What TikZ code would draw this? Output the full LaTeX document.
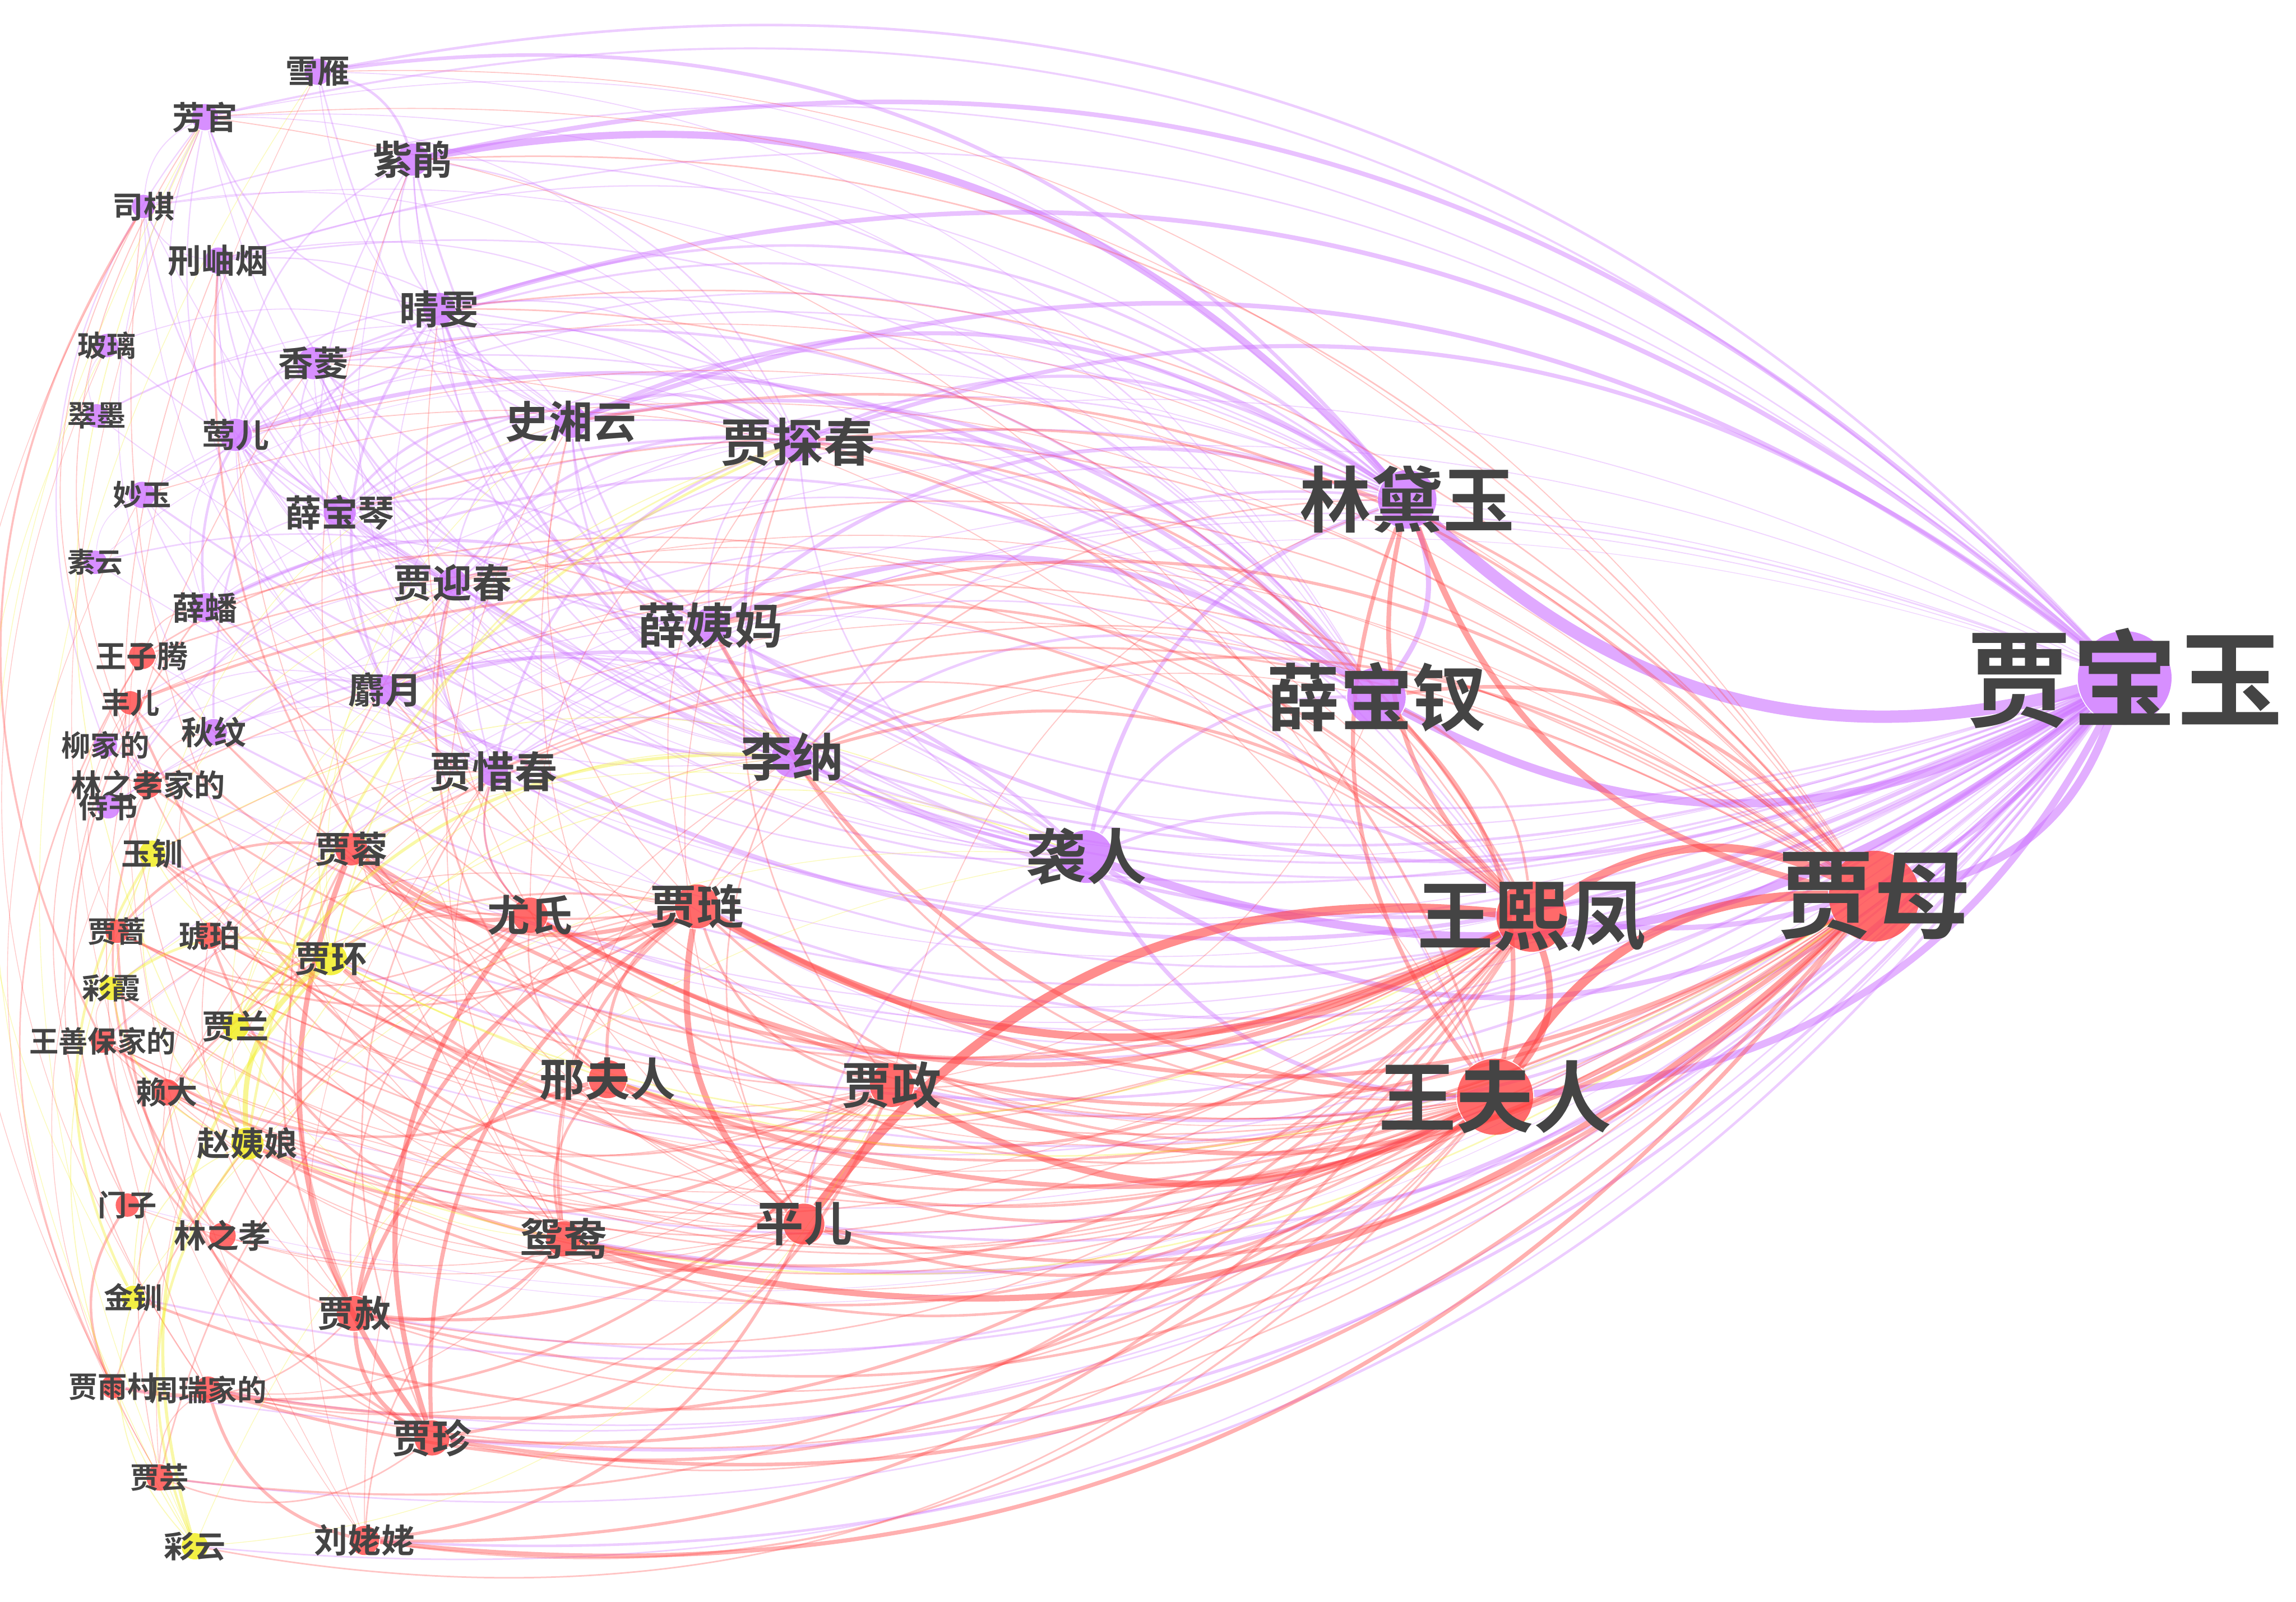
\documentclass[tikz,border=0pt]{standalone}
\usepackage{fontspec}
\usetikzlibrary{calc}
\newfontfamily\cjk{Noto Sans CJK SC Bold}
\definecolor{purp}{RGB}{204,112,255}
\definecolor{redp}{RGB}{255,64,64}
\definecolor{yelp}{RGB}{240,236,16}
\definecolor{labgray}{RGB}{68,68,68}
\pgfdeclarelayer{bg}
\pgfsetlayers{bg,main}

\newcommand\tie[5]{%
  \pgfmathsetmacro\tieop{min(0.25+0.2*#4,0.6)}%
  \draw[#1, line width=#4pt, draw opacity=\tieop]
    let \p1=(#2), \p2=(#3),
        \n1={(\x2-\x1)/100*((\y1+\y2)/200+1.707)-(\y2-\y1)/100*((\x1+\x2)/200-2.219)},
        \n2={(1-2*#5)*29*sign(\n1)}
    in (#2) to[bend left=\n2] (#3);}

\begin{document}
\begin{tikzpicture}[
    person/.style={circle, fill=#1, fill opacity=.78, inner sep=0pt},
    lab/.style={font=\cjk\fontsize{#1pt}{#1pt}\selectfont, text=labgray, inner sep=0pt}]
\useasboundingbox (0,0) rectangle (15.68,-10.94);

\foreach \id/\x/\y/\rad/\fs/\col/\txt in {
    bao/14.51/-4.63/32/20.5/purp/贾宝玉, dai/9.61/-3.41/20/13.9/purp/林黛玉,
    chai/9.40/-4.76/20/14.2/purp/薛宝钗, mu/12.80/-6.12/31/18.8/redp/贾母,
    feng/10.46/-6.26/24/14.8/redp/王熙凤, wang/10.21/-7.49/26/15.1/redp/王夫人,
    xi/7.42/-5.85/18/11.7/purp/袭人, tan/5.45/-3.02/13/10/purp/贾探春,
    xiang/3.90/-2.88/11/8.5/purp/史湘云, yima/4.85/-4.27/12/9.4/purp/薛姨妈,
    wan/5.41/-5.17/14/10/purp/李纳, lian/4.76/-6.19/15/9.1/redp/贾琏,
    zheng/6.09/-7.41/15/9.7/redp/贾政, ping/5.49/-8.36/14/9.4/redp/平儿,
    xing/4.15/-7.37/13/8.8/redp/邢夫人, yuan/3.85/-8.46/12/8.5/redp/鸳鸯,
    you/3.62/-6.25/12/8.3/redp/尤氏, xichun/3.37/-5.27/10/8.3/purp/贾惜春,
    ying/3.09/-3.98/10/7.7/purp/贾迎春, qing/3.00/-2.11/11/7.7/purp/晴雯,
    zij/2.82/-1.09/11/7.7/purp/紫鹃, xueyan/2.17/-0.49/9/6.3/purp/雪雁,
    fang/1.40/-0.80/9/6.3/purp/芳官, siqi/0.98/-1.41/8/6/purp/司棋,
    xiuyan/1.49/-1.78/9/6.5/purp/刑岫烟, boli/0.73/-2.36/8/5.7/purp/玻璃,
    xling/2.14/-2.48/11/6.8/purp/香菱, cuimo/0.66/-2.84/8/5.7/purp/翠墨,
    yinger/1.61/-2.97/11/6.5/purp/莺儿, miao/0.97/-3.38/9/5.7/purp/妙玉,
    baoqin/2.32/-3.50/11/7.1/purp/薛宝琴, suyun/0.65/-3.84/8/5.4/purp/素云,
    pan/1.40/-4.15/10/6.3/purp/薛蟠, ziteng/0.97/-4.48/9/6/redp/王子腾,
    sheyue/2.63/-4.71/10/7.1/purp/麝月, fenger/0.89/-4.80/8/5.7/redp/丰儿,
    qiuwen/1.46/-5.00/9/6.3/purp/秋纹, liujia/0.72/-5.09/8/5.7/purp/柳家的,
    linjia/1.01/-5.36/9/6/redp/林之孝家的, shishu/0.74/-5.51/8/5.7/purp/侍书,
    yuchuan/1.04/-5.83/9/6/yelp/玉钏, rong/2.40/-5.80/11/7.1/redp/贾蓉,
    qiang/0.80/-6.36/8/5.7/redp/贾蔷, hupo/1.43/-6.39/9/6/redp/琥珀,
    huan/2.26/-6.55/11/7.1/yelp/贾环, caixia/0.76/-6.75/8/5.7/yelp/彩霞,
    wsb/0.70/-7.11/8/5.7/redp/王善保家的, lan/1.61/-7.01/9/6.5/yelp/贾兰,
    laida/1.14/-7.46/9/6/redp/赖大, zhao/1.69/-7.81/11/6.5/yelp/赵姨娘,
    menzi/0.87/-8.23/8/5.7/redp/门子, linzx/1.52/-8.44/9/6.3/redp/林之孝,
    jinchuan/0.91/-8.86/8/5.7/yelp/金钏, she/2.42/-8.97/12/7.1/redp/贾赦,
    yucun/0.77/-9.47/8/5.7/redp/贾雨村, zhourui/1.42/-9.49/9/5.7/redp/周瑞家的,
    zhen/2.95/-9.82/12/7.7/redp/贾珍, yun/1.09/-10.09/9/5.7/redp/贾芸,
    caiyun/1.33/-10.56/9/6/yelp/彩云, liu/2.49/-10.52/10/6.5/redp/刘姥姥}
  \node[person=\col, minimum size=\rad*0.2mm, label={[lab=\fs]center:\txt}] (\id) at (\x,\y) {};

\begin{pgfonlayer}{bg}
\foreach \src/\dst/\lw/\fl in {
    bao/dai/2.4/1, bao/chai/1.6/1, bao/xi/1.6/1, bao/mu/1.6/0, bao/wang/1.4/0, bao/feng/1.0/0,
    zij/bao/0.9/0, qing/bao/0.9/0, xiang/bao/0.9/0, tan/bao/0.8/0, bao/sheyue/0.8/1, bao/yima/0.7/1,
    bao/wan/0.7/1, bao/zheng/0.6/0, xueyan/bao/0.5/0, yinger/bao/0.5/1, xling/bao/0.4/1,
    bao/baoqin/0.4/1, fang/bao/0.4/0, bao/xichun/0.4/1, bao/ying/0.4/1, bao/huan/0.5/1,
    bao/ping/0.5/0, bao/lian/0.5/1, bao/yuan/0.8/0, miao/bao/0.4/1, bao/qiuwen/0.4/1,
    siqi/bao/0.3/0, xiuyan/bao/0.3/0, boli/bao/0.25/1, pan/bao/0.4/1, bao/liu/0.5/0,
    bao/zhao/0.4/0, bao/jinchuan/0.4/0, bao/yuchuan/0.4/1, bao/xing/0.4/0, bao/you/0.3/1,
    bao/rong/0.3/1, bao/zhen/0.6/0, bao/she/0.4/0, bao/lan/0.3/1, bao/caiyun/0.3/0, bao/yun/0.3/0,
    bao/liujia/0.25/1, bao/fenger/0.2/0, bao/hupo/0.3/0, bao/zhourui/0.3/0, bao/laida/0.2/0,
    bao/suyun/0.2/1, bao/cuimo/0.2/1, bao/shishu/0.2/0, bao/linjia/0.2/1, bao/qiang/0.2/0,
    bao/ziteng/0.2/1, bao/wsb/0.15/0, bao/caixia/0.2/0, bao/linzx/0.15/0, bao/yucun/0.3/0,
    bao/menzi/0.15/0,
    dai/zij/1.4/0, dai/chai/1.0/0, dai/xueyan/0.7/0, dai/xiang/0.8/0, dai/tan/0.6/0, dai/qing/0.5/0,
    dai/xi/0.8/0, dai/yima/0.7/0, dai/wan/0.5/0, dai/baoqin/0.3/0, dai/yinger/0.3/0, dai/xling/0.4/0,
    dai/miao/0.3/0, dai/sheyue/0.3/0, dai/xichun/0.3/0, dai/ying/0.3/0, dai/pan/0.2/0, dai/fang/0.2/0,
    dai/xiuyan/0.25/0,
    chai/xi/0.6/0, chai/yima/1.0/0, chai/xiang/0.7/0, chai/tan/0.6/0, chai/yinger/0.8/0,
    chai/pan/0.5/0, chai/baoqin/0.5/0, chai/xling/0.5/0, chai/wan/0.5/0, chai/xiuyan/0.3/0,
    chai/sheyue/0.3/0, chai/ying/0.3/0, chai/xichun/0.3/0, chai/qing/0.3/0, chai/zij/0.3/0,
    chai/fang/0.2/0, chai/siqi/0.2/0, chai/xueyan/0.2/0,
    xi/mu/1.0/1, xi/wang/0.8/0, xi/feng/0.6/0, xi/qing/0.6/0, xi/sheyue/0.7/0, xi/qiuwen/0.4/0,
    xi/yima/0.3/0, xi/xling/0.3/0, xi/tan/0.3/0, xi/xiang/0.4/0, xi/fang/0.3/0, xi/yinger/0.3/0,
    xi/ping/0.4/0, xi/zij/0.4/0, xi/xueyan/0.3/0, xi/siqi/0.2/0, xi/liujia/0.2/0,
    tan/wan/0.6/0, tan/xichun/0.5/0, tan/ying/0.5/0, tan/xiang/0.6/0, tan/baoqin/0.4/0,
    tan/shishu/0.3/0, tan/cuimo/0.2/0, tan/yima/0.3/0, tan/zij/0.3/0, tan/fang/0.2/0,
    tan/siqi/0.2/0, tan/xiuyan/0.25/0, tan/qing/0.3/0, tan/xling/0.25/0, tan/miao/0.2/0,
    tan/suyun/0.15/0, tan/sheyue/0.2/0,
    xiang/wan/0.4/0, xiang/baoqin/0.5/0, xiang/xichun/0.3/0, xiang/ying/0.3/0, xiang/cuimo/0.25/0,
    xiang/qing/0.3/0, xiang/yima/0.3/0, xiang/zij/0.3/0, xiang/xueyan/0.2/0, xiang/xiuyan/0.25/0,
    xiang/xling/0.3/0, xiang/sheyue/0.2/0, xiang/feng/0.3/0,
    yima/pan/0.6/0, yima/baoqin/0.4/0, yima/xling/0.4/0, yima/xiuyan/0.3/0,
    wan/suyun/0.3/0, wan/xichun/0.3/0, wan/ying/0.3/0, wan/zij/0.2/0, wan/fang/0.2/0,
    wan/xiuyan/0.2/0, wan/qing/0.3/0, wan/xling/0.2/0, wan/yinger/0.2/0, wan/baoqin/0.3/0,
    wan/miao/0.2/0, wan/sheyue/0.2/0,
    qing/sheyue/0.5/0, qing/qiuwen/0.4/0, qing/fang/0.3/0, zij/qing/0.3/0, zij/xueyan/0.5/0,
    qing/yinger/0.3/0, qing/xichun/0.2/0, qing/wang/0.3/0, zij/yinger/0.3/0, zij/sheyue/0.25/0,
    zij/xichun/0.2/0, sheyue/qiuwen/0.4/0, sheyue/feng/0.2/0, pan/xling/0.5/0, pan/yinger/0.2/0,
    pan/baoqin/0.25/0, fang/siqi/0.2/0, fang/sheyue/0.25/0, fang/yinger/0.2/0, fang/qiuwen/0.2/0,
    siqi/ying/0.3/0, siqi/xiuyan/0.2/0, siqi/xichun/0.2/0, xiuyan/ying/0.3/0, xiuyan/xichun/0.2/0,
    boli/xiang/0.2/0, miao/xichun/0.25/0, yinger/xling/0.3/0, yinger/baoqin/0.3/0,
    yinger/sheyue/0.2/0, yinger/wang/0.2/0, xling/baoqin/0.3/0, xling/ying/0.2/0, xling/feng/0.3/0,
    baoqin/xiuyan/0.2/0, baoqin/xichun/0.25/0, liujia/fang/0.25/0, liujia/sheyue/0.2/0,
    shishu/ying/0.2/0, shishu/xichun/0.2/0, suyun/miao/0.15/0, cuimo/boli/0.15/0,
    xichun/ying/0.4/0, xichun/you/0.3/0, qiuwen/xichun/0.15/0}
  {\tie{purp}{\src}{\dst}{\lw}{\fl}}

\foreach \src/\dst/\lw/\fl in {
    mu/feng/1.6/1, mu/wang/1.8/1, mu/yuan/1.2/0, mu/lian/0.8/0, mu/zheng/0.9/0, mu/xing/0.9/0,
    mu/you/0.7/0, mu/zhen/0.7/0, mu/she/0.5/0, mu/liu/0.8/0, mu/ping/0.7/0, mu/hupo/0.5/0,
    mu/rong/0.4/0, mu/lan/0.3/0, mu/xichun/0.3/0, mu/ying/0.3/0,
    mu/dai/1.2/1, mu/chai/0.7/0, mu/tan/0.5/0, mu/xiang/0.5/0, mu/yima/0.6/0, mu/wan/0.5/0,
    mu/baoqin/0.3/0, mu/zhourui/0.3/0, mu/laida/0.3/0, mu/linjia/0.3/0, mu/yinger/0.2/0,
    mu/qing/0.3/0, mu/zij/0.3/0, mu/xling/0.2/0, mu/fang/0.2/0, mu/sheyue/0.2/0, mu/xueyan/0.2/0,
    mu/miao/0.2/0, mu/qiang/0.2/0, mu/fenger/0.2/0, mu/yuchuan/0.2/0, mu/wsb/0.2/0,
    feng/wang/1.3/0, feng/ping/1.8/1, feng/lian/1.5/0, feng/you/0.9/0, feng/rong/0.7/0,
    feng/zhen/0.6/0, feng/xing/0.6/0, feng/yuan/0.6/0, feng/liu/0.6/0, feng/zhourui/0.6/0,
    feng/linjia/0.4/0, feng/fenger/0.5/0, feng/laida/0.3/0, feng/yun/0.4/0, feng/qiang/0.3/0,
    feng/zheng/0.4/0, feng/she/0.3/0, feng/zhao/0.3/0, feng/wsb/0.2/0,
    feng/dai/0.9/1, feng/chai/0.5/0, feng/tan/0.5/0, feng/yima/0.5/0, feng/wan/0.6/0,
    feng/xichun/0.3/0, feng/ying/0.2/0, feng/qing/0.3/0, feng/yinger/0.2/0, feng/pan/0.3/0,
    feng/ziteng/0.3/0, feng/hupo/0.3/0, feng/yuchuan/0.3/0,
    wang/zheng/1.3/0, wang/zhao/0.5/0, wang/huan/0.5/0, wang/yuchuan/0.5/0, wang/jinchuan/0.5/0,
    wang/ping/0.6/0, wang/xing/0.6/0, wang/lian/0.5/0, wang/zhourui/0.6/0, wang/caiyun/0.3/0,
    wang/wsb/0.3/0, wang/you/0.4/0, wang/liu/0.4/0, wang/yuan/0.5/0, wang/ziteng/0.3/0,
    wang/dai/0.8/1, wang/chai/0.9/0, wang/tan/0.5/0, wang/yima/0.8/0, wang/wan/0.4/0,
    wang/xichun/0.2/0, wang/lan/0.3/0, wang/sheyue/0.3/0, wang/xling/0.2/0, wang/pan/0.3/0,
    wang/caixia/0.3/0, wang/laida/0.2/0, wang/qiuwen/0.2/0, wang/fang/0.2/0, wang/zhen/0.3/0,
    wang/she/0.3/0,
    lian/ping/1.2/0, lian/zhen/0.8/0, lian/rong/0.8/0, lian/she/0.8/0, lian/you/0.6/0,
    lian/xing/0.6/0, lian/yuan/0.6/0, lian/qiang/0.4/0, lian/laida/0.4/0, lian/fenger/0.4/0,
    lian/yucun/0.3/0, lian/zheng/0.5/0, lian/yun/0.3/0, lian/linzx/0.3/0, lian/xichun/0.2/0,
    lian/dai/0.3/0, lian/chai/0.2/0, lian/xiang/0.2/0, lian/tan/0.2/0, lian/hupo/0.2/0,
    lian/wsb/0.2/0,
    zheng/huan/0.6/0, zheng/zhao/0.6/0, zheng/she/0.6/0, zheng/yucun/0.5/0, zheng/zhen/0.6/0,
    zheng/lan/0.4/0, zheng/xing/0.4/0, zheng/ping/0.3/0, zheng/laida/0.3/0, zheng/tan/0.3/0,
    zheng/chai/0.2/0, zheng/dai/0.2/0, zheng/yuchuan/0.2/0, zheng/caixia/0.2/0, zheng/linzx/0.2/0,
    zheng/menzi/0.2/0,
    she/xing/0.8/0, she/zhen/0.8/0, she/yuan/0.6/0, she/rong/0.4/0, she/wsb/0.4/0,
    she/ying/0.3/0, she/yucun/0.3/0, she/xiuyan/0.2/0, she/hupo/0.2/0, she/you/0.3/0,
    zhen/you/1.0/0, zhen/rong/1.0/0, zhen/qiang/0.5/0, zhen/yun/0.3/0, zhen/laida/0.3/0,
    zhen/xichun/0.3/0, you/rong/0.8/0, you/xichun/0.4/0, you/xing/0.3/0, you/tan/0.2/0,
    you/wan/0.2/0, you/qiang/0.3/0, you/ying/0.2/0, you/laida/0.2/0,
    ping/yuan/0.6/0, ping/fenger/0.5/0, ping/linjia/0.3/0, ping/liu/0.6/0, ping/xiang/0.2/0,
    ping/wan/0.3/0, ping/tan/0.2/0, ping/qing/0.2/0, ping/yinger/0.2/0, ping/sheyue/0.2/0,
    ping/hupo/0.2/0, ping/laida/0.2/0, ping/wsb/0.2/0, ping/zhourui/0.3/0,
    yuan/hupo/0.5/0, yuan/xing/0.5/0, yuan/liu/0.3/0, yuan/xichun/0.2/0, yuan/wan/0.2/0,
    yuan/zij/0.2/0, yuan/siqi/0.2/0, yuan/xiang/0.2/0, yuan/zhourui/0.2/0,
    xing/wsb/0.5/0, xing/ying/0.4/0, xing/xiuyan/0.4/0,
    rong/xichun/0.2/0, rong/yun/0.2/0, rong/laida/0.2/0, qiang/rong/0.5/0, qiang/fenger/0.15/0,
    liu/zhourui/0.6/0, liu/wan/0.2/0, liu/xichun/0.15/0, menzi/yucun/0.5/0, menzi/pan/0.3/0,
    menzi/ziteng/0.2/0, ziteng/yima/0.3/0, ziteng/yucun/0.3/0, ziteng/pan/0.2/0,
    linjia/linzx/0.4/0, linjia/fang/0.2/0, linjia/liujia/0.2/0, linjia/qiuwen/0.2/0,
    linjia/siqi/0.2/0, fenger/linjia/0.2/0, wsb/siqi/0.4/0, wsb/caixia/0.15/0,
    zhourui/yun/0.2/0, zhourui/xling/0.2/0, zhourui/fenger/0.2/0, laida/linzx/0.2/0,
    hupo/xichun/0.15/0, hupo/qiuwen/0.15/0, yun/xichun/0.15/0, yun/linjia/0.15/0,
    zhourui/boli/0.15/0, yucun/siqi/0.15/0, yun/miao/0.15/0, liu/fang/0.15/0, liu/xueyan/0.15/0}
  {\tie{redp}{\src}{\dst}{\lw}{\fl}}

\foreach \src/\dst/\lw/\fl in {
    zhao/huan/1.0/0, zhao/caiyun/0.5/0, zhao/tan/0.5/0, huan/caiyun/0.6/0, huan/caixia/0.5/0,
    huan/lan/0.4/0, huan/tan/0.3/0, jinchuan/yuchuan/0.5/0, lan/wan/0.6/0, lan/zhao/0.3/0,
    caixia/zhao/0.3/0, caiyun/yuchuan/0.2/0, huan/yuchuan/0.2/0, caiyun/jinchuan/0.2/0,
    huan/mu/0.3/0, huan/feng/0.3/0, zhao/mu/0.3/0, zhao/yuchuan/0.2/0, zhao/wan/0.2/0,
    zhao/sheyue/0.15/0, zhao/fang/0.2/0, zhao/jinchuan/0.2/0, huan/xi/0.2/0, huan/xichun/0.2/0,
    huan/ying/0.2/0, huan/you/0.15/0, huan/rong/0.2/0, huan/wan/0.2/0, huan/xiang/0.15/0,
    yuchuan/xi/0.2/0, yuchuan/xiang/0.15/0, jinchuan/xi/0.15/0, jinchuan/huan/0.2/0,
    lan/xichun/0.15/0, lan/tan/0.2/0, lan/yuan/0.15/0, caiyun/xi/0.15/0, caixia/xi/0.15/0,
    caixia/ying/0.15/0, caiyun/zheng/0.15/0, caiyun/fang/0.15/0, jinchuan/boli/0.15/0,
    caiyun/xueyan/0.15/0}
  {\tie{yelp}{\src}{\dst}{\lw}{\fl}}
\end{pgfonlayer}
\end{tikzpicture}
\end{document}
